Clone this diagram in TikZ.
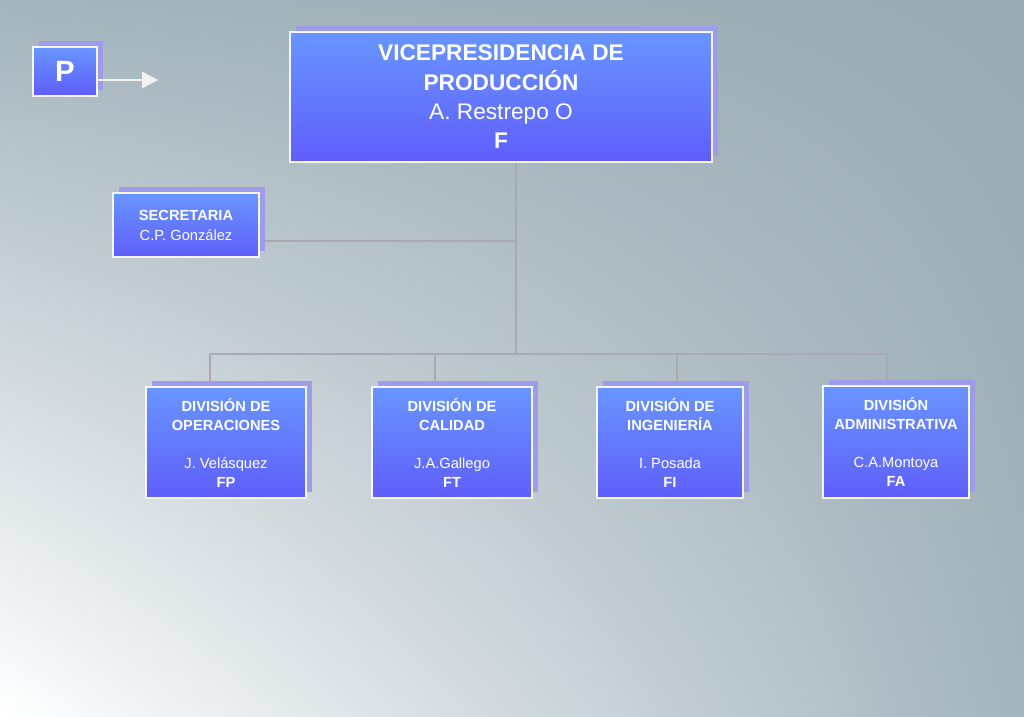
\documentclass[tikz,border=0pt]{standalone}
\usepackage{fontspec}
\setmainfont{Liberation Sans}
\usetikzlibrary{arrows.meta,shadings}
\definecolor{bgg}{HTML}{A3B4BD}
\definecolor{btop}{HTML}{6895FF}
\definecolor{bbot}{HTML}{5F5EFA}
\definecolor{shad}{HTML}{9C9CEA}
\definecolor{lin}{HTML}{A9A9B4}
\tikzset{
 box/.style={draw=white!92!gray,line width=1.8pt,top color=btop,bottom color=bbot,text=white,align=center,inner sep=0pt},
 shd/.style={fill=shad},
 conn/.style={draw=lin,line width=2pt},
}
\newcommand{\obox}[7]{% name, x1,y1,x2,y2, font, text
 \fill[shd] (#2+6,#3-6) rectangle (#4+6,#5-6);
 \node[box,font=#6,minimum width={(#4-#2)*0.75pt},minimum height={(#5-#3)*0.75pt}] (#1) at ({(#2+#4)/2},{(#3+#5)/2}) {#7};}
\begin{document}
\begin{tikzpicture}[x=0.75pt,y=-0.75pt]
\useasboundingbox (0,0) rectangle (1024,717);
\shade[upper left=bgg,upper right=bgg!95!black,lower left=white,lower right=bgg] (0,0) rectangle (1024,717);
\coordinate (hub) at (516,354);
\coordinate (sj) at (516,241);
\coordinate (h1) at (210,354);
\coordinate (h4) at (887,354);
\coordinate (ptip) at (158,80);
\draw[conn] (516,162) -- (hub);
\draw[conn] (259,241) -- (sj);
\draw[conn] (h1) -- (h4);
\draw[conn] (h1) -- (210,387);
\draw[conn] (435,354) -- (435,387);
\draw[conn] (677,354) -- (677,387);
\draw[conn] (887,354) -- (887,386);
\obox{p}{33}{47}{97}{96}{\fontsize{22}{24}\selectfont\bfseries}{P}
\draw[white!90!gray,line width=2pt,-{Triangle[length=12pt,width=12pt]}] (97,80) -- (ptip);
\obox{vp}{290}{32}{712}{162}{\fontsize{17}{22}\selectfont}{\textbf{VICEPRESIDENCIA DE}\\\textbf{PRODUCCIÓN}\\A. Restrepo O\\\textbf{F}}
\obox{sec}{113}{193}{259}{257}{\fontsize{11}{15}\selectfont}{\textbf{SECRETARIA}\\C.P. González}
\obox{d1}{146}{387}{306}{498}{\fontsize{11}{14.25}\selectfont}{\textbf{DIVISIÓN DE}\\\textbf{OPERACIONES}\\[14.25pt]J. Velásquez\\\textbf{FP}}
\obox{d2}{372}{387}{532}{498}{\fontsize{11}{14.25}\selectfont}{\textbf{DIVISIÓN DE}\\\textbf{CALIDAD}\\[14.25pt]J.A.Gallego\\\textbf{FT}}
\obox{d3}{597}{387}{743}{498}{\fontsize{11}{14.25}\selectfont}{\textbf{DIVISIÓN DE}\\\textbf{INGENIERÍA}\\[14.25pt]I. Posada\\\textbf{FI}}
\obox{d4}{823}{386}{969}{498}{\fontsize{11}{14.25}\selectfont}{\textbf{DIVISIÓN}\\\textbf{ADMINISTRATIVA}\\[14.25pt]C.A.Montoya\\\textbf{FA}}
\end{tikzpicture}
\end{document}
